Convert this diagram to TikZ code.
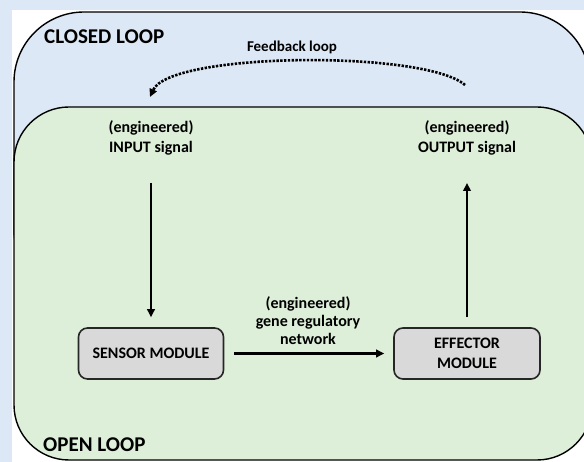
\documentclass[tikz,border=0pt]{standalone}
\usepackage{fontspec}
\setmainfont{Carlito}
\usetikzlibrary{arrows.meta}
\definecolor{bgblue}{RGB}{220,232,245}
\definecolor{loopblue}{RGB}{220,232,245}
\definecolor{loopgreen}{RGB}{222,239,217}
\definecolor{boxgray}{RGB}{217,217,217}
\tikzset{
  looptitle/.style={font=\fontsize{21}{24}\selectfont\bfseries, anchor=west, inner sep=0pt},
  lbl/.style={font=\fontsize{16}{20}\selectfont\bfseries, align=center, inner sep=0pt},
  grnlbl/.style={font=\fontsize{16}{18}\selectfont\bfseries, align=center, inner sep=0pt},
  fblbl/.style={font=\fontsize{15}{18}\selectfont\bfseries, inner sep=0pt},
  modbox/.style={draw=black!85, line width=1.6pt, fill=boxgray, rounded corners=9pt,
     font=\fontsize{16}{20}\selectfont\bfseries, align=center, minimum height=51pt, inner sep=0pt},
  arr/.style={line width=2.2pt, -{Triangle[length=8pt,width=7.5pt]}},
  fbarr/.style={line width=2.6pt, dash pattern=on 2.4pt off 1.4pt, -{Triangle[length=8pt,width=7.5pt]}},
  framebox/.style={draw=black, line width=1.4pt}
}
\begin{document}
\begin{tikzpicture}[x=1pt,y=-1pt]
\useasboundingbox (0,0) rectangle (584,462);
\begin{scope}
\clip (0,0) rectangle (584,462);
\fill[bgblue] (0,0) rectangle (584,462);
\fill[white] (12,10) rectangle (584,462);
% outer (closed loop) frame
\path[framebox, fill=loopblue, rounded corners=70pt] (14,12) rectangle (590,300);
% inner (open loop) frame
\path[framebox, fill=loopgreen, rounded corners=55pt] (14,107) rectangle (592,460);
\end{scope}

\node[looptitle] (closed) at (44,37) {CLOSED LOOP};
\node[looptitle] (open) at (43,445) {OPEN LOOP};
\node[fblbl] (fb) at (292,47) {Feedback loop};

\node[lbl] (input) at (151,138) {(engineered)\\INPUT signal};
\node[lbl] (output) at (467,138) {(engineered)\\OUTPUT signal};

\node[modbox, minimum width=145pt] (sensor) at (151,353.5) {SENSOR MODULE};
\node[modbox, minimum width=146pt] (effector) at (467,353.5) {EFFECTOR\\MODULE};

\node[grnlbl] (grn) at (308,321) {(engineered)\\gene regulatory\\network};

\coordinate (inS) at (151,183);
\coordinate (outE) at (467,183);
\coordinate (fbS) at (465,85);
\coordinate (fbE) at (150,97);

\draw[arr, shorten >=10pt] (inS) -- (sensor.north);
\draw[arr, shorten <=10pt] (effector.north) -- (outE);
\draw[arr, shorten <=10pt, shorten >=9pt] (sensor.east) -- (effector.west);
\draw[fbarr] (fbS) .. controls (425,50) and (170,52) .. (fbE);
\end{tikzpicture}
\end{document}
